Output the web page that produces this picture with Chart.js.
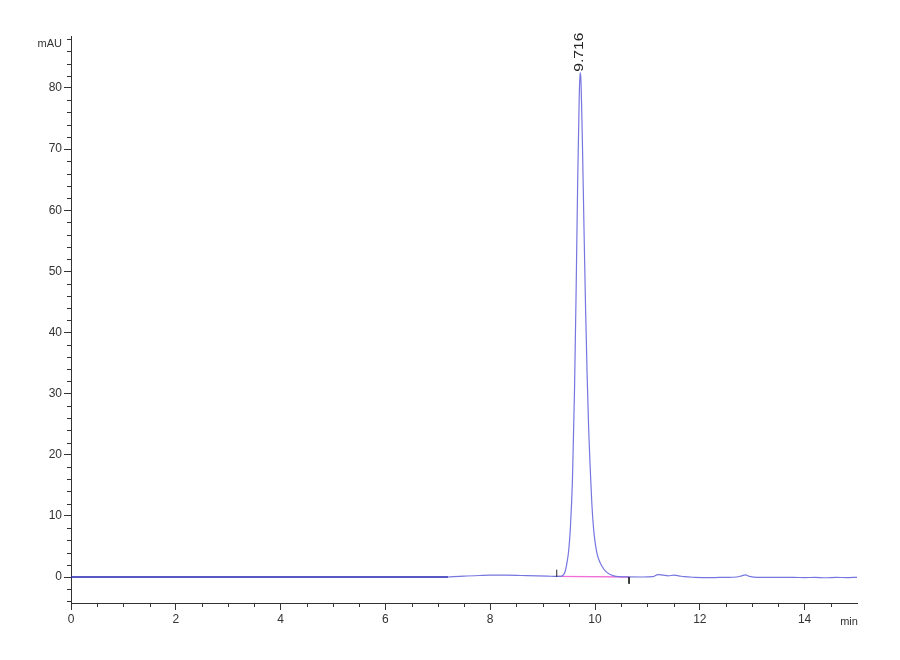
<!DOCTYPE html>
<html>
<head>
<meta charset="utf-8">
<script src="https://cdn.jsdelivr.net/npm/chart.js@4.4.1/dist/chart.umd.min.js"></script>
<style>
  html, body { margin: 0; padding: 0; background: #ffffff; }
  #wrap { width: 900px; height: 660px; position: relative; }
</style>
</head>
<body>
<div id="wrap"><canvas id="c" width="900" height="660"></canvas></div>
<script>
// ---- data ----
const earlyTime   = [0, 1, 2, 3, 4, 5, 6, 7, 7.2];
const earlySignal = [0, 0, 0, 0, 0, 0, 0, 0, 0];

const traceTime = [7.2, 7.5, 7.8, 8.0, 8.3, 8.6, 8.9, 9.1, 9.25, 9.35, 9.40, 9.43, 9.47, 9.50, 9.53, 9.57, 9.61, 9.64, 9.67, 9.70, 9.716,
  9.73, 9.76, 9.79, 9.82, 9.85, 9.88, 9.91, 9.94, 9.97, 10.00, 10.04, 10.08, 10.13, 10.20, 10.28, 10.36, 10.45, 10.60, 10.9,
  11.1, 11.2, 11.3, 11.4, 11.5, 11.6, 11.7, 11.9, 12.2, 12.5, 12.7, 12.8, 12.87, 12.95, 13.1, 13.4, 13.8, 14.0,
  14.2, 14.4, 14.6, 14.8, 15.0];
const traceSignal = [0.0, 0.15, 0.25, 0.3, 0.3, 0.25, 0.2, 0.15, 0.1, 0.12, 0.4, 0.9, 2.6, 4.5, 8, 16, 31, 47, 65, 79, 82.5,
  81.5, 71, 57, 44, 33, 24, 17.5, 12, 8.2, 5.8, 3.8, 2.7, 1.8, 0.95, 0.45, 0.2, 0.08, 0.02, 0.0,
  0.05, 0.4, 0.3, 0.2, 0.3, 0.2, 0.05, -0.05, -0.1, -0.05, 0.0, 0.2, 0.35, 0.1, -0.05, -0.05, -0.05, -0.1,
  -0.05, -0.12, -0.05, -0.1, -0.05];

const baselineTime   = [9.27, 10.65];
const baselineSignal = [0.1, 0.0];

const startMarkTime = [9.27, 9.27];
const startMarkVal  = [0, 1.2];
const endMarkTime   = [10.65, 10.65];
const endMarkVal    = [0, -1.1];

const peakTime  = 9.716;
const peakValue = 82.5;
const peakLabel = "9.716";

const xTickLabels = [0, 2, 4, 6, 8, 10, 12, 14];
const yTickLabels = [0, 10, 20, 30, 40, 50, 60, 70, 80];
const xUnit = "min";
const yUnit = "mAU";

const pts = (xs, ys) => xs.map((x, i) => ({ x: x, y: ys[i] }));

const FONT = '"Liberation Sans", Arial, sans-serif';
const AXIS = '#333333';

const decor = {
  id: 'decor',
  afterDraw(chart) {
    const ctx = chart.ctx;
    const xs = chart.scales.x, ys = chart.scales.y;
    const ca = chart.chartArea;
    ctx.save();
    ctx.strokeStyle = AXIS;
    ctx.lineWidth = 1;
    // minor ticks y (every 2)
    for (let v = -4; v <= 88; v += 2) {
      if (v % 10 === 0) continue;
      const py = Math.round(ys.getPixelForValue(v)) + 0.5;
      ctx.beginPath(); ctx.moveTo(ca.left - 4, py); ctx.lineTo(ca.left, py); ctx.stroke();
    }
    // minor ticks x (every 0.5)
    for (let v = 0.5; v < 15; v += 0.5) {
      if (Math.abs(v % 2) < 1e-9) continue;
      const px = Math.round(xs.getPixelForValue(v)) + 0.5;
      ctx.beginPath(); ctx.moveTo(px, ca.bottom); ctx.lineTo(px, ca.bottom + 4); ctx.stroke();
    }
    // unit labels
    ctx.fillStyle = AXIS;
    ctx.font = '11px ' + FONT;
    ctx.textAlign = 'right'; ctx.textBaseline = 'middle';
    ctx.fillText(yUnit, ca.left - 9, ca.top + 8);
    ctx.textAlign = 'center';
    ctx.fillText(xUnit, ca.right - 8, 622);
    // peak label
    const px = xs.getPixelForValue(peakTime);
    const py = ys.getPixelForValue(peakValue);
    ctx.translate(px, py - 1);
    ctx.rotate(-Math.PI / 2);
    ctx.scale(1.3, 1);
    ctx.font = '12px ' + FONT;
    ctx.fillStyle = '#222222';
    ctx.textAlign = 'left'; ctx.textBaseline = 'middle';
    ctx.fillText(peakLabel, 0, 0);
    ctx.restore();
  }
};

new Chart(document.getElementById('c'), {
  type: 'line',
  data: {
    datasets: [
      { data: pts(baselineTime, baselineSignal), borderColor: '#f070d8', borderWidth: 1.3, pointRadius: 0, order: 3 },
      { data: pts(traceTime, traceSignal), borderColor: '#7676e0', borderWidth: 1.2, pointRadius: 0, cubicInterpolationMode: 'monotone', order: 2 },
      { data: pts(earlyTime, earlySignal), borderColor: '#2222b0', borderWidth: 1.4, pointRadius: 0, order: 1 },
      { data: pts(startMarkTime, startMarkVal), borderColor: '#222222', borderWidth: 1, pointRadius: 0, order: 0 },
      { data: pts(endMarkTime, endMarkVal), borderColor: '#222222', borderWidth: 1, pointRadius: 0, order: 0 }
    ]
  },
  options: {
    responsive: false,
    animation: false,
    events: [],
    layout: { padding: { top: 36, right: 43, left: 0, bottom: 0 } },
    plugins: { legend: { display: false }, tooltip: { enabled: false } },
    scales: {
      x: {
        type: 'linear', min: 0, max: 15,
        afterBuildTicks: s => { s.ticks = xTickLabels.map(v => ({ value: v })); },
        afterFit: s => { s.height = 57; },
        border: { display: true, color: AXIS, width: 1 },
        grid: { display: true, drawOnChartArea: false, drawTicks: true, tickLength: 7, color: AXIS, tickColor: AXIS },
        ticks: { color: AXIS, font: { family: FONT, size: 12 }, padding: 2, maxRotation: 0 }
      },
      y: {
        type: 'linear', min: -4.25, max: 88.5,
        afterBuildTicks: s => { s.ticks = yTickLabels.map(v => ({ value: v })); },
        afterFit: s => { s.width = 71; },
        border: { display: true, color: AXIS, width: 1 },
        grid: { display: true, drawOnChartArea: false, drawTicks: true, tickLength: 7, color: AXIS, tickColor: AXIS },
        ticks: { color: AXIS, font: { family: FONT, size: 12 }, padding: 2 }
      }
    }
  },
  plugins: [decor]
});
</script>
</body>
</html>
